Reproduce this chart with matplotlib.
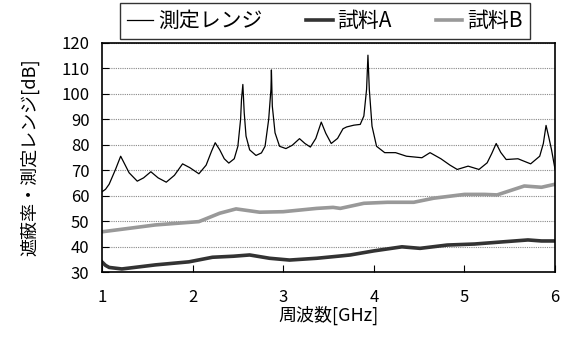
import matplotlib
matplotlib.use("Agg")
import matplotlib.pyplot as plt

plt.rcParams['font.family'] = ['Noto Sans CJK JP', 'DejaVu Sans']

range_f = [1.0, 1.04, 1.08, 1.15, 1.207, 1.25, 1.30, 1.39, 1.46, 1.54, 1.62, 1.71, 1.80, 1.89, 1.97, 2.07, 2.15, 2.21,
           2.25, 2.30, 2.35, 2.40, 2.46, 2.50, 2.53, 2.54, 2.555, 2.57, 2.59, 2.63, 2.70, 2.76, 2.80, 2.84, 2.865, 2.87,
           2.88, 2.91, 2.96, 3.03, 3.10, 3.18, 3.24, 3.30, 3.36, 3.42, 3.47, 3.53, 3.60, 3.66, 3.70, 3.78, 3.85, 3.89,
           3.92, 3.935, 3.95, 3.98, 4.03, 4.12, 4.24, 4.36, 4.53, 4.62, 4.74, 4.84, 4.92, 5.04, 5.16, 5.25, 5.30, 5.35,
           5.40, 5.46, 5.59, 5.73, 5.83, 5.87, 5.90, 5.93, 5.96, 6.0]
range_v = [61.5, 62.5, 64.5, 70.3, 75.5, 72.5, 69, 65.7, 67, 69.4, 67, 65.3, 68, 72.5, 71, 68.6, 72, 77.5,
           80.8, 78, 74.5, 72.8, 74.5, 79.4, 90, 97.8, 103.7, 92.6, 83.4, 78, 75.8, 76.8, 79.4, 90, 101.8, 109.4,
           95.2, 84.7, 79.4, 78.5, 79.8, 82.4, 80.5, 79.1, 82.5, 88.9, 84.5, 80.5, 82.5, 86.3, 87, 87.7, 88, 91.3,
           101.8, 115.2, 101.8, 87.3, 79.4, 76.9, 76.9, 75.5, 74.9, 76.9, 74.5, 72, 70.3, 71.6, 70.3, 72.9, 76.5, 80.5,
           77, 74.2, 74.5, 72.5, 75.5, 80.5, 87.6, 83, 78.1, 70.2]

a_f = [1.0, 1.04, 1.08, 1.22, 1.59, 1.96, 2.22, 2.45, 2.63, 2.85, 3.07, 3.37, 3.63, 3.74, 4.0, 4.31, 4.51, 4.81, 5.11, 5.44, 5.70, 5.85, 6.0]
a_v = [34, 32.6, 31.8, 31.2, 32.8, 34, 35.8, 36.2, 36.7, 35.4, 34.7, 35.4, 36.3, 36.7, 38.3, 39.9, 39.3, 40.6, 41, 41.9, 42.6, 42.2, 42.2]

b_f = [1.0, 1.22, 1.59, 2.07, 2.30, 2.48, 2.74, 3.0, 3.37, 3.55, 3.63, 3.89, 4.15, 4.44, 4.66, 5.0, 5.22, 5.36, 5.66, 5.85, 6.0]
b_v = [45.8, 46.8, 48.5, 49.8, 53.1, 54.8, 53.5, 53.7, 55, 55.4, 55, 57, 57.4, 57.4, 59, 60.5, 60.5, 60.3, 63.8, 63.3, 64.5]

labels = ['測定レンジ', '試料A', '試料B']
xticks = [1, 2, 3, 4, 5, 6]
yticks = list(range(30, 121, 10))

fig = plt.figure(figsize=(5.63, 3.41), dpi=100)
ax = fig.add_axes([0.181, 0.2023, 0.805, 0.6717])

l1, = ax.plot(range_f, range_v, color='black', lw=0.9, label=labels[0])
l2, = ax.plot(a_f, a_v, color='#333333', lw=2.6, label=labels[1])
l3, = ax.plot(b_f, b_v, color='#999999', lw=2.6, label=labels[2])

ax.set_xlim(1, 6)
ax.set_ylim(30, 120)
ax.set_xticks(xticks)
ax.set_yticks(yticks)
ax.yaxis.grid(True, color='#888888', lw=0.8, ls=(0, (1, 1)))
ax.set_axisbelow(True)
ax.tick_params(axis='x', direction='in', length=5, labelsize=12, pad=12)
ax.tick_params(axis='y', direction='in', length=5, labelsize=12, pad=9)
for s in ax.spines.values():
    s.set_linewidth(1.2)
    s.set_color('black')
ax.set_xlabel('周波数[GHz]', fontsize=13, labelpad=0)
ax.set_ylabel('遮蔽率・測定レンジ[dB]', fontsize=13, labelpad=16)

leg = fig.legend(handles=[l1, l2, l3], loc='center', bbox_to_anchor=(0.577, 0.938), ncol=3,
                 fontsize=15, frameon=True, fancybox=False, edgecolor='black', handlelength=1.25,
                 columnspacing=2.1, handletextpad=0.25, borderpad=0.35, borderaxespad=0)
leg.get_frame().set_linewidth(1.0)

fig.savefig('out.png', dpi=100)
